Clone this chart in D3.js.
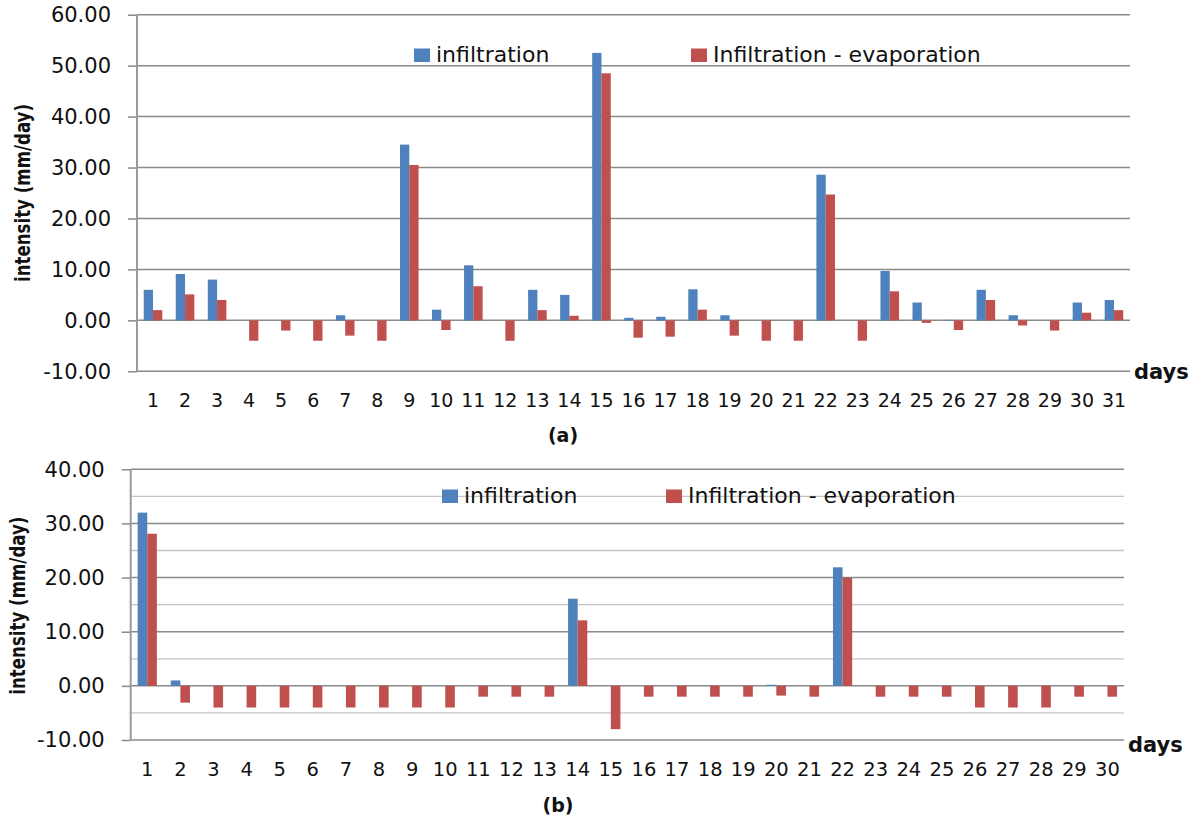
<!DOCTYPE html>
<html>
<head>
<meta charset="utf-8">
<script src="https://cdn.jsdelivr.net/npm/d3@7/dist/d3.min.js"></script>
<style>
  html, body { margin: 0; padding: 0; background: #ffffff; }
  svg { display: block; }
</style>
</head>
<body>
<svg id="chart" width="1201" height="817"></svg>
<script>
// ---------- data ----------
const daysA = ["1","2","3","4","5","6","7","8","9","10","11","12","13","14","15","16","17","18","19","20","21","22","23","24","25","26","27","28","29","30","31"];
const infiltrationA = [6.0, 9.1, 8.0, 0, 0, 0, 1.0, 0, 34.5, 2.1, 10.8, 0, 6.0, 5.0, 52.5, 0.5, 0.7, 6.1, 1.0, 0, 0, 28.6, 0, 9.7, 3.5, 0.1, 6.0, 1.0, 0, 3.5, 4.0];
const infMinusEvapA = [2.0, 5.1, 4.0, -4.0, -2.0, -4.0, -3.0, -4.0, 30.5, -1.9, 6.7, -4.0, 2.0, 0.9, 48.5, -3.4, -3.2, 2.1, -3.0, -4.0, -4.0, 24.7, -4.0, 5.7, -0.5, -1.9, 4.0, -1.0, -2.0, 1.5, 2.0];

const daysB = ["1","2","3","4","5","6","7","8","9","10","11","12","13","14","15","16","17","18","19","20","21","22","23","24","25","26","27","28","29","30"];
const infiltrationB = [32.0, 1.0, 0, 0, 0, 0, 0, 0, 0, 0, 0, 0, 0, 16.1, 0, 0, 0, 0, 0, 0.2, 0, 21.9, 0, 0, 0, 0, 0, 0, 0, 0];
const infMinusEvapB = [28.1, -3.1, -4.0, -4.0, -4.0, -4.0, -4.0, -4.0, -4.0, -4.0, -2.0, -2.0, -2.0, 12.1, -8.0, -2.0, -2.0, -2.0, -2.0, -1.8, -2.0, 20.0, -2.0, -2.0, -2.0, -4.0, -4.0, -4.0, -2.0, -2.0];

const seriesNames = ["infiltration", "Infiltration - evaporation"];
const yTicksA = [-10, 0, 10, 20, 30, 40, 50, 60];
const yTicksB = [-10, 0, 10, 20, 30, 40];
const yMinorB = [-5, 5, 15, 25, 35];
const yTitle = "intensity (mm/day)";
const xTitle = "days";
const panelLabels = ["(a)", "(b)"];

const colors = ["#4f81bd", "#c0504d"];

const svg = d3.select("#chart");
const fmt = v => d3.format(".2f")(v).replace("\u2212", "-");

function panel(cfg) {
  const { days, inf, ie, left, right, top, bottom, yMin, yMax, yTicks, yMinor } = cfg;
  const g = svg.append("g");
  const y = d3.scaleLinear().domain([yMin, yMax]).range([bottom, top]);
  const x0 = d3.scaleBand().domain(days).range([left, right]).paddingInner(0.42).paddingOuter(0.21);
  const x1 = d3.scaleBand().domain([0, 1]).range([0, x0.bandwidth()]);

  // minor gridlines
  if (yMinor) {
    g.append("g").selectAll("line").data(yMinor).join("line")
      .attr("x1", left).attr("x2", right)
      .attr("y1", d => y(d)).attr("y2", d => y(d))
      .attr("stroke", "#c4c4c4").attr("stroke-width", 1.3);
  }
  // major gridlines + ticks via axis
  const ax = g.append("g").attr("transform", `translate(${left},0)`)
    .call(d3.axisLeft(y).tickValues(yTicks).tickFormat(fmt).tickSize(9).tickPadding(cfg.tickPad));
  ax.select(".domain").remove();
  ax.selectAll(".tick line").attr("stroke", "#8a8a8a").attr("stroke-width", 1.5);
  ax.selectAll(".tick text")
    .attr("font-family", "DejaVu Sans").attr("font-size", cfg.yFont).attr("fill", "#111");
  g.append("g").selectAll("line").data(yTicks).join("line")
    .attr("x1", left).attr("x2", right)
    .attr("y1", d => y(d)).attr("y2", d => y(d))
    .attr("stroke", "#8a8a8a").attr("stroke-width", 1.5);

  // bars
  const rows = days.map((d, i) => ({ day: d, vals: [inf[i], ie[i]] }));
  const grp = g.append("g").selectAll("g").data(rows).join("g")
    .attr("transform", d => `translate(${x0(d.day)},0)`);
  grp.selectAll("rect").data(d => d.vals.map((v, k) => ({ v, k }))).join("rect")
    .attr("x", d => x1(d.k))
    .attr("width", x1.bandwidth())
    .attr("y", d => y(Math.max(0, d.v)))
    .attr("height", d => Math.abs(y(d.v) - y(0)))
    .attr("fill", d => colors[d.k]);

  // left axis line
  g.append("line").attr("x1", left).attr("x2", left).attr("y1", top).attr("y2", bottom)
    .attr("stroke", "#9a9a9a").attr("stroke-width", 2);

  // x labels
  const xa = g.append("g").attr("transform", `translate(0,${bottom})`)
    .call(d3.axisBottom(x0).tickSize(0).tickPadding(0));
  xa.select(".domain").remove();
  xa.selectAll(".tick text")
    .attr("dy", null).attr("y", cfg.xLabelDy)
    .attr("font-family", cfg.xFontFamily).attr("font-size", cfg.xFont).attr("fill", "#111");

  // y title
  g.append("text")
    .attr("transform", `translate(${cfg.yTitleX},${(top + bottom) / 2 + cfg.yTitleShift}) rotate(-90)`)
    .attr("text-anchor", "middle")
    .attr("font-family", "DejaVu Sans Condensed, DejaVu Sans").attr("font-weight", "bold").attr("font-size", 21)
    .attr("textLength", 178).attr("lengthAdjust", "spacingAndGlyphs")
    .attr("fill", "#111").text(yTitle);

  // days
  g.append("text").attr("x", cfg.daysX).attr("y", cfg.daysY)
    .attr("font-family", "DejaVu Sans").attr("font-weight", "bold").attr("font-size", 21)
    .attr("fill", "#111").text(xTitle);

  // panel label
  g.append("text").attr("x", cfg.labelX).attr("y", cfg.labelY).attr("text-anchor", "middle")
    .attr("font-family", "DejaVu Sans").attr("font-weight", "bold").attr("font-size", 19)
    .attr("fill", "#111").text(cfg.label);

  // legend
  const lg = g.append("g");
  cfg.legend.forEach((L, k) => {
    lg.append("rect").attr("x", L.x).attr("y", L.y - 13.5).attr("width", 16).attr("height", 13.5)
      .attr("fill", colors[k]);
    lg.append("text").attr("x", L.x + 22).attr("y", L.y)
      .attr("font-family", "DejaVu Sans").attr("font-size", 22).attr("fill", "#111")
      .text(seriesNames[k]);
  });
}

panel({
  days: daysA, inf: infiltrationA, ie: infMinusEvapA,
  left: 137, right: 1130, top: 14.7, bottom: 371.3, yMin: -10, yMax: 60,
  yTicks: yTicksA, yMinor: null, tickPad: 17, yFont: 21,
  xLabelDy: 36, xFontFamily: "DejaVu Sans", xFont: 19,
  yTitleX: 30, yTitleShift: 0,
  daysX: 1134, daysY: 379, labelX: 563, labelY: 442, label: panelLabels[0],
  legend: [{ x: 414, y: 62 }, { x: 691, y: 62 }]
});

panel({
  days: daysB, inf: infiltrationB, ie: infMinusEvapB,
  left: 130.7, right: 1124, top: 469.3, bottom: 740, yMin: -10, yMax: 40,
  yTicks: yTicksB, yMinor: yMinorB, tickPad: 17, yFont: 21,
  xLabelDy: 36, xFontFamily: "DejaVu Sans", xFont: 19.5,
  yTitleX: 25, yTitleShift: 1,
  daysX: 1128, daysY: 752, labelX: 558, labelY: 812, label: panelLabels[1],
  legend: [{ x: 442, y: 503 }, { x: 666, y: 503 }]
});
</script>
</body>
</html>
